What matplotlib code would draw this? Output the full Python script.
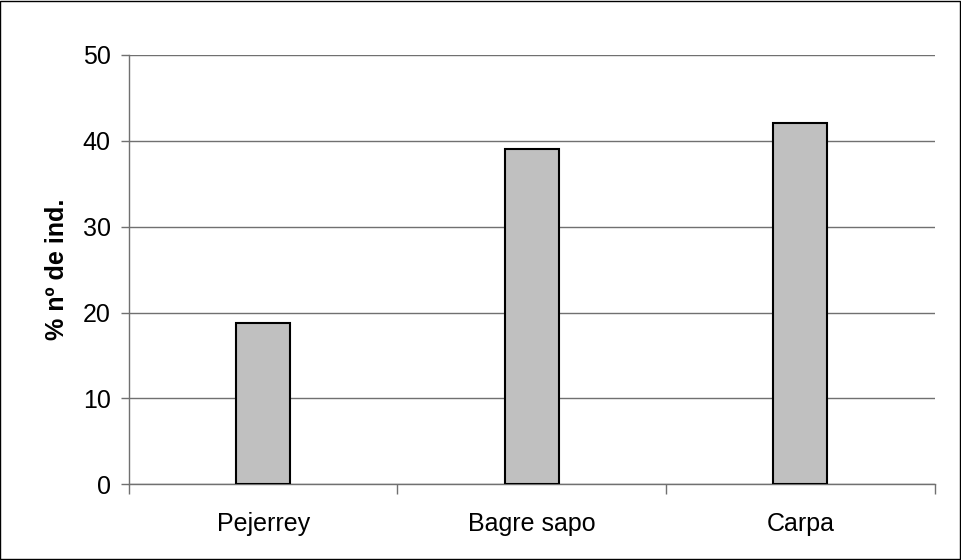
import matplotlib
matplotlib.use("Agg")
import matplotlib.pyplot as plt
import numpy as np

especies = ["Pejerrey", "Bagre sapo", "Carpa"]
pct_ind = [18.8, 39.0, 42.1]
yticks = [0, 10, 20, 30, 40, 50]

plt.rcParams["font.family"] = ["Liberation Sans", "DejaVu Sans"]
FS = 18

fig = plt.figure(figsize=(9.61, 5.6), dpi=100)
ax = fig.add_axes([0.134, 0.135, 0.8386, 0.7673])

x = np.arange(len(especies))
ax.bar(x, pct_ind, width=0.2, color="#C0C0C0", edgecolor="black", linewidth=1.5, zorder=3)

ax.set_xlim(-0.5, len(especies) - 0.5)
ax.set_ylim(0, 50)
ax.set_yticks(yticks)
ax.yaxis.grid(True, color="#707070", linewidth=1.0, zorder=0)
ax.set_xticks(x)
ax.set_xticklabels(especies, fontsize=FS)
ax.set_xticks(np.arange(-0.5, len(especies)), minor=True)
ax.tick_params(axis="x", which="major", length=0, pad=20)
ax.tick_params(axis="x", which="minor", length=7, width=1, color="#707070", direction="out")
ax.tick_params(axis="y", length=6, width=1, color="#707070", labelsize=FS, pad=7)

for s in ("top", "right"):
    ax.spines[s].set_visible(False)
for s in ("left", "bottom"):
    ax.spines[s].set_color("#707070")
    ax.spines[s].set_linewidth(1.0)

ax.set_ylabel("% nº de ind.", fontsize=FS, fontweight="bold", labelpad=10)

# marco exterior
fig.patches.append(plt.Rectangle((0.0005, 0.001), 0.998, 0.997, transform=fig.transFigure,
                                 fill=False, edgecolor="black", linewidth=1.0))

fig.savefig("out.png", dpi=100)
